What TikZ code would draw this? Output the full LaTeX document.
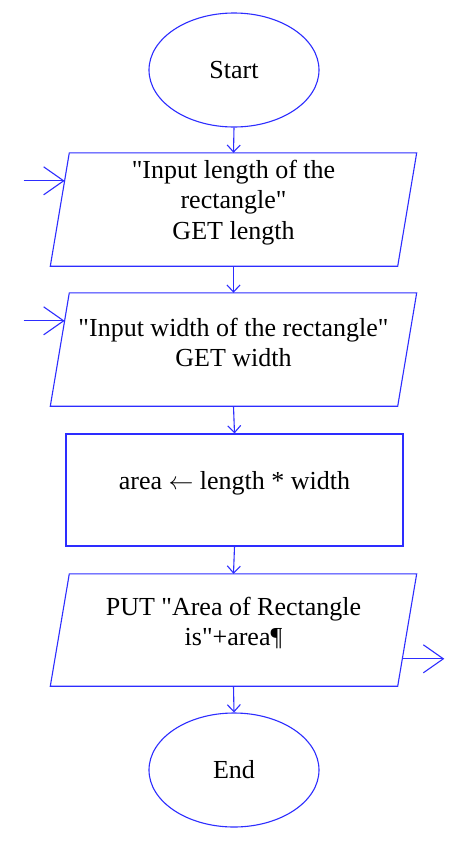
\documentclass[tikz,border=0pt]{standalone}
\usepackage{fontspec}
\setmainfont{Liberation Serif}[Ligatures=TeXOff]
\usetikzlibrary{shapes.geometric,arrows.meta,calc}
\definecolor{fcblue}{RGB}{45,45,255}
\begin{document}
\begin{tikzpicture}[x=1pt,y=-1pt,
  line/.style={draw=fcblue,line width=1.1pt},
  txtfont/.style={font=\fontsize{26}{30.5}\selectfont},
  term/.style={ellipse,line,minimum width=170pt,minimum height=114pt,inner sep=0pt,txtfont},
  iobox/.style={minimum width=347pt,minimum height=113pt,inner sep=0pt},
  procbox/.style={line,minimum width=337pt,minimum height=112pt,inner sep=0pt},
  txt/.style={txtfont,align=center,inner sep=0pt},
  flow/.style={line,-{Straight Barb[length=7pt,width=13pt]}},
  io/.style={line,-{Straight Barb[length=20pt,width=28pt]}}
]
\useasboundingbox[fill=white] (0,0) rectangle (475,844);

% Start
\node[term] (start) at (234,70) {Start};

% Input length
\node[iobox] (p1) at (233.5,209.5) {};
\draw[line] ([xshift=9.5pt]p1.north west) -- ([xshift=9.5pt]p1.north east)
  -- ([xshift=-9.5pt]p1.south east) -- ([xshift=-9.5pt]p1.south west) -- cycle;
\node[txt] (p1t) at ([yshift=7pt]p1.center) {"Input length of the\\rectangle"\\GET length};

% Input width
\node[iobox] (p2) at (233.5,349.5) {};
\draw[line] ([xshift=9.5pt]p2.north west) -- ([xshift=9.5pt]p2.north east)
  -- ([xshift=-9.5pt]p2.south east) -- ([xshift=-9.5pt]p2.south west) -- cycle;
\node[txt] (p2t) at ([yshift=7pt]p2.center) {"Input width of the rectangle"\\GET width};

% Process
\node[procbox] (calc) at (234.5,490) {};
\node[txt] (calct) at ([yshift=7pt]calc.center) {area $\leftarrow$ length * width};

% Output
\node[iobox,minimum height=112pt] (p3) at (233.5,630) {};
\draw[line] ([xshift=9.5pt]p3.north west) -- ([xshift=9.5pt]p3.north east)
  -- ([xshift=-9.5pt]p3.south east) -- ([xshift=-9.5pt]p3.south west) -- cycle;
\node[txt] (p3t) at ([yshift=7pt]p3.center) {PUT "Area of Rectangle\\is"+area¶};

% End
\node[term] (end) at (234,770) {End};

% flow connectors
\draw[flow] (start.south) -- (p1.north);
\draw[flow] (p1.south) -- (p2.north);
\draw[flow] (p2.south) -- (calc.north);
\draw[flow] (calc.south) -- (p3.north);
\draw[flow] (p3.south) -- (end.north);

% io arrows
\coordinate (p1in) at ([xshift=4.8pt,yshift=-28pt]p1.north west);
\coordinate (p1src) at ([xshift=-41pt]p1in);
\draw[io] (p1src) -- (p1in);
\coordinate (p2in) at ([xshift=4.8pt,yshift=-28pt]p2.north west);
\coordinate (p2src) at ([xshift=-41pt]p2in);
\draw[io] (p2src) -- (p2in);
\coordinate (p3out) at ([xshift=-4.9pt,yshift=-85pt]p3.north east);
\coordinate (p3dst) at ([xshift=42pt]p3out);
\draw[io] (p3out) -- (p3dst);
\end{tikzpicture}
\end{document}
